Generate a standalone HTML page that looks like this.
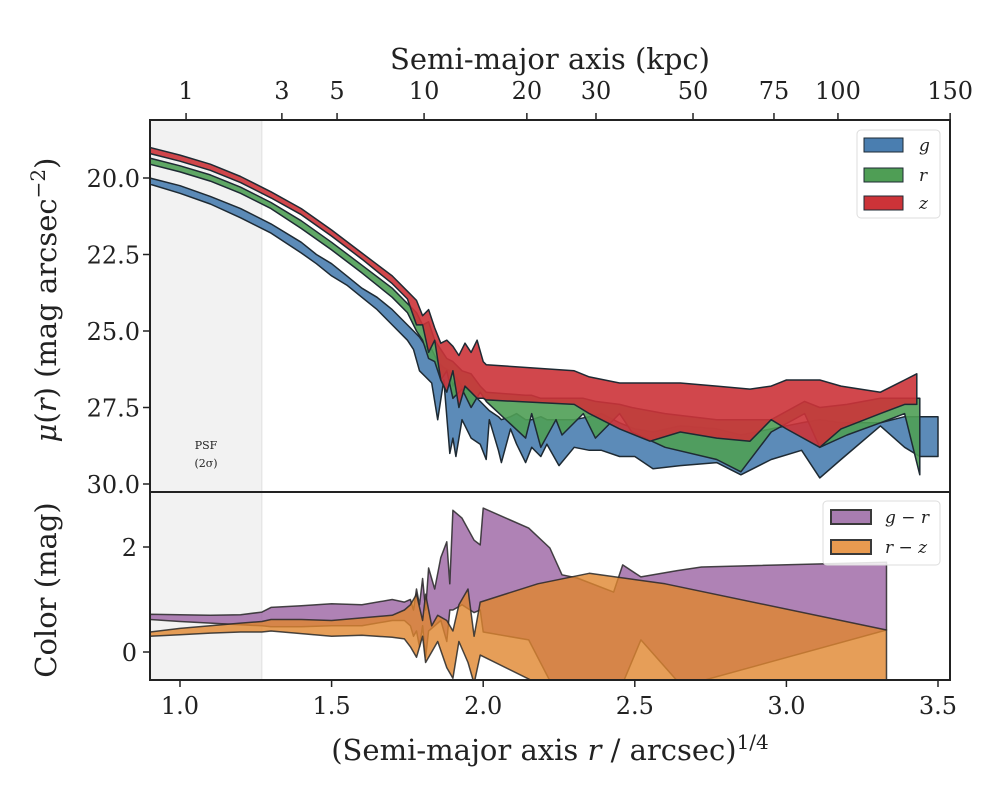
<!DOCTYPE html>
<html><head><meta charset="utf-8"><style>
body{margin:0;background:#fff}
svg text{font-family:"DejaVu Serif","Liberation Serif",serif;fill:#222}
</style></head><body>
<svg id="c" width="1000" height="800" viewBox="0 0 1000 800"></svg>
<script>
// ---------- data ----------
const gX=[0.9,1.0,1.1,1.2,1.3,1.4,1.45,1.5,1.55,1.6,1.65,1.7,1.75,1.77,1.79,1.81,1.83,1.85,1.87,1.89,1.9,1.91,1.93,1.96,1.99,2.01,2.02,2.05,2.06,2.09,2.11,2.14,2.16,2.19,2.21,2.25,2.30,2.35,2.39,2.45,2.50,2.56,2.65,2.77,2.85,2.95,3.05,3.11,3.18,3.31,3.39,3.44,3.50];
const gHi=[20.0,20.25,20.6,21.0,21.5,22.1,22.5,22.8,23.2,23.6,23.9,24.3,24.8,25.0,25.2,25.5,25.6,26.0,26.2,26.3,26.8,26.5,26.8,27.0,27.3,27.5,27.6,27.8,27.9,27.8,27.7,27.9,27.9,27.8,27.9,27.9,27.9,27.8,27.7,28.0,28.2,28.3,28.1,28.2,28.4,28.2,28.0,27.9,28.0,28.0,27.8,27.8,27.8];
const gLo=[20.2,20.5,20.85,21.3,21.8,22.45,22.8,23.2,23.5,23.9,24.3,24.8,25.3,25.6,26.3,26.5,26.7,27.9,26.6,29.0,28.5,29.1,27.9,28.5,28.7,29.2,27.9,28.9,29.3,28.2,28.7,29.3,28.8,29.1,28.7,29.4,28.8,28.9,28.9,29.1,29.1,29.5,29.4,29.3,29.7,29.2,28.9,29.8,29.2,28.1,28.8,29.1,29.1];
const rX=[0.9,1.0,1.1,1.2,1.3,1.4,1.5,1.6,1.7,1.75,1.78,1.80,1.82,1.84,1.86,1.88,1.9,1.93,1.96,1.99,2.01,2.14,2.16,2.19,2.24,2.26,2.33,2.37,2.45,2.49,2.6,2.77,2.85,2.95,3.06,3.11,3.2,3.31,3.39,3.44];
const rHi=[19.35,19.6,19.9,20.3,20.8,21.4,22.1,22.85,23.6,24.1,24.4,24.8,24.7,25.3,25.6,25.9,26.0,26.3,26.4,26.8,27.0,27.1,27.1,27.2,27.2,27.2,27.2,27.3,27.4,27.5,27.7,27.9,27.9,27.9,27.3,27.5,27.4,27.2,27.2,27.2];
const rLo=[19.55,19.8,20.1,20.5,21.0,21.65,22.35,23.1,23.9,24.4,25.0,25.3,25.9,26.0,26.6,26.3,27.2,26.9,27.5,27.0,27.3,28.5,27.7,28.8,27.9,28.4,27.7,28.5,27.7,28.3,28.8,29.2,29.6,28.3,27.7,28.8,28.4,28.0,27.7,29.7];
const zX=[0.9,1.0,1.1,1.2,1.3,1.4,1.5,1.6,1.7,1.75,1.78,1.80,1.82,1.84,1.86,1.88,1.9,1.92,1.94,1.96,1.98,2.0,2.01,2.3,2.35,2.45,2.55,2.65,2.77,2.88,2.95,3.0,3.11,3.18,3.31,3.39,3.43];
const zHi=[19.0,19.25,19.55,19.95,20.45,21.0,21.7,22.45,23.2,23.7,24.0,24.5,24.3,24.9,25.4,25.3,25.5,25.8,25.4,25.7,25.3,26.0,26.1,26.3,26.5,26.7,26.7,26.7,26.8,26.9,26.8,26.6,26.6,26.8,27.0,26.6,26.4];
const zLo=[19.2,19.45,19.75,20.15,20.65,21.2,21.9,22.65,23.45,23.95,24.8,24.8,25.7,25.3,26.6,27.0,26.3,27.5,26.8,27.0,27.2,27.2,27.25,27.4,27.7,28.2,28.6,28.3,28.5,28.6,27.9,28.2,28.8,28.2,27.7,27.4,27.4];
const grX=[0.9,1.0,1.1,1.2,1.27,1.3,1.4,1.5,1.6,1.7,1.74,1.76,1.77,1.78,1.79,1.80,1.81,1.82,1.84,1.86,1.88,1.89,1.9,1.93,1.97,1.99,2.0,2.15,2.22,2.26,2.31,2.43,2.46,2.52,2.64,2.72,3.33];
const grHi=[0.72,0.71,0.70,0.71,0.76,0.85,0.88,0.92,0.9,1.0,0.95,1.0,0.8,1.2,0.9,1.4,0.8,1.6,1.2,1.8,2.1,1.3,2.7,2.55,2.13,2.04,2.74,2.36,1.98,1.47,1.41,1.14,1.66,1.43,1.55,1.62,1.71];
const grLo=[0.62,0.58,0.55,0.52,0.5,0.48,0.48,0.5,0.5,0.6,0.6,0.5,0.3,0.4,0.1,0.5,-0.1,0.4,0.5,0.6,0.2,0.8,0.8,0.9,0.75,0.8,0.38,0.23,-0.55,-0.6,-0.6,-0.6,-0.6,0.23,-0.55,-0.55,0.42];
const rzX=[0.9,1.0,1.1,1.2,1.27,1.3,1.4,1.5,1.6,1.7,1.74,1.76,1.78,1.80,1.81,1.83,1.85,1.88,1.9,1.92,1.95,1.97,1.99,2.18,2.35,2.6,3.33];
const rzHi=[0.38,0.45,0.5,0.55,0.58,0.62,0.62,0.6,0.65,0.7,0.8,0.9,1.1,0.6,1.1,0.5,0.7,0.6,0.4,0.9,1.2,0.3,0.95,1.3,1.5,1.3,0.42];
const rzLo=[0.3,0.33,0.36,0.38,0.38,0.4,0.35,0.3,0.32,0.28,0.25,0.1,-0.1,0.3,-0.2,0.0,0.2,-0.3,-0.5,0.2,-0.2,-0.6,-0.06,-0.6,-0.6,-0.6,-0.6];
const xTicks=[1.0,1.5,2.0,2.5,3.0,3.5];
const muTicks=[20.0,22.5,25.0,27.5,30.0];
const colTicks=[0,2];
const kpcLabels=["1","3","5","10","20","30","50","75","100","150"];
const kpcPos=[1.020,1.336,1.518,1.805,2.144,2.372,2.692,2.959,3.170,3.54];

// ---------- axes ----------
const L=150,R=950,T1=120,B1=492,T2=492,B2=680;
const X=v=>180+(v-1)*303.2;
const Y1=v=>178+(v-20)*30.6;
const Y2=v=>652-v*52.5;
const NS="http://www.w3.org/2000/svg";
const svg=document.getElementById('c');
function el(tag,at,parent){const e=document.createElementNS(NS,tag);for(const k in at)e.setAttribute(k,at[k]);(parent||svg).appendChild(e);return e;}

const defs=el('defs',{});
const c1=el('clipPath',{id:'cp1'},defs);el('rect',{x:L,y:T1,width:R-L,height:B1-T1},c1);
const c2=el('clipPath',{id:'cp2'},defs);el('rect',{x:L,y:T2,width:R-L,height:B2-T2},c2);

const psf1=el('rect',{x:L,y:T1,width:X(1.27)-L,height:B1-T1,fill:'#f2f2f2'});


const psf2=el('rect',{x:L,y:T2,width:X(1.27)-L,height:B2-T2,fill:'#f2f2f2'});


el('line',{x1:X(1.27),x2:X(1.27),y1:T1,y2:B2,stroke:'#e0e0e0','stroke-width':1});
const pt=el('text',{x:206,y:449,'text-anchor':'middle','font-size':11});pt.textContent='PSF';


const pt2=el('text',{x:206,y:467,'text-anchor':'middle','font-size':11});pt2.textContent='(2σ)';



function band(xs,hi,lo,Yf,fill,op,stroke,clip,name){
  let d='';
  xs.forEach((x,i)=>{d+=(i?'L':'M')+X(x).toFixed(1)+','+Yf(hi[i]).toFixed(1);});
  for(let i=xs.length-1;i>=0;i--)d+='L'+X(xs[i]).toFixed(1)+','+Yf(lo[i]).toFixed(1);
  d+='Z';
  const p=el('path',{d:d,fill:fill,'fill-opacity':op,stroke:stroke,'stroke-width':1.5,'stroke-linejoin':'round','clip-path':'url(#'+clip+')'});
  
  
}
band(gX,gHi,gLo,Y1,'#4a7eb0',0.9,'#1e2a33','cp1','g-band');
band(rX,rHi,rLo,Y1,'#4f9e55',0.9,'#1e2a33','cp1','r-band');
band(zX,zHi,zLo,Y1,'#cc3338',0.9,'#1e2a33','cp1','z-band');
band(grX,grHi,grLo,Y2,'#9b63a2',0.8,'rgba(40,40,40,0.85)','cp2','g-r-band');
band(rzX,rzHi,rzLo,Y2,'#e0862e',0.8,'rgba(40,40,40,0.85)','cp2','r-z-band');

const f1=el('rect',{x:L,y:T1,width:R-L,height:B1-T1,fill:'none',stroke:'#222','stroke-width':2});


const f2=el('rect',{x:L,y:T2,width:R-L,height:B2-T2,fill:'none',stroke:'#222','stroke-width':2});



xTicks.forEach(v=>{
  el('line',{x1:X(v),x2:X(v),y1:B2,y2:B2+7,stroke:'#222','stroke-width':1.5});
  const t=el('text',{x:X(v),y:B2+34,'text-anchor':'middle','font-size':24});t.textContent=v.toFixed(1);
  
  
});
muTicks.forEach(v=>{
  el('line',{x1:L-7,x2:L,y1:Y1(v),y2:Y1(v),stroke:'#222','stroke-width':1.5});
  const t=el('text',{x:L-10,y:Y1(v)+9,'text-anchor':'end','font-size':24});t.textContent=v.toFixed(1);
  
  
});
colTicks.forEach(v=>{
  el('line',{x1:L-7,x2:L,y1:Y2(v),y2:Y2(v),stroke:'#222','stroke-width':1.5});
  const t=el('text',{x:L-13,y:Y2(v)+9,'text-anchor':'end','font-size':24});t.textContent=String(v);
  
  
});
kpcPos.forEach((v,i)=>{
  el('line',{x1:X(v),x2:X(v),y1:T1-7,y2:T1,stroke:'#222','stroke-width':1.5});
  const t=el('text',{x:X(v),y:T1-21,'text-anchor':'middle','font-size':24});t.textContent=kpcLabels[i];
  
  
});

function txt(s,at,name){const t=el('text',at);t.innerHTML=s;return t;}
txt('Semi-major axis (kpc)',{x:550,y:69,'text-anchor':'middle','font-size':29},'top-axis-title');
txt('(Semi-major axis <tspan font-style="italic">r</tspan> / arcsec)<tspan dy="-11" font-size="20">1/4</tspan>',{x:550,y:760,'text-anchor':'middle','font-size':29},'x-axis-title');
txt('<tspan font-style="italic">μ</tspan>(<tspan font-style="italic">r</tspan>) (mag arcsec<tspan dy="-11" font-size="20">−2</tspan><tspan dy="11">)</tspan>',{x:0,y:0,'text-anchor':'middle','font-size':29,transform:'translate(56,300) rotate(-90)'},'mu-axis-title');
txt('Color (mag)',{x:0,y:0,'text-anchor':'middle','font-size':29,transform:'translate(56,590) rotate(-90)'},'color-axis-title');

function legend(x,y,w,h,items,name){
  const g=el('g',{});
  el('rect',{x:x,y:y,width:w,height:h,rx:4,fill:'#fff','fill-opacity':0.85,stroke:'#ddd','stroke-width':1},g);
  items.forEach((it,i)=>{
    const r=el('rect',{x:it.px,y:it.py,width:it.pw,height:14,fill:it.c,stroke:it.s,'stroke-width':it.sw},g);
    
    const t=el('text',{x:it.tx,y:it.py+13,'font-size':17,'font-family':'DejaVu Sans, sans-serif','font-style':'italic'},g);
    t.textContent=it.l;
  });
}
legend(857,130,83,88,[
  {px:864,py:138,pw:39,c:'#4a7eb0',s:'#1e2a33',sw:1,tx:919,l:'g'},
  {px:864,py:168,pw:39,c:'#4f9e55',s:'#1e2a33',sw:1,tx:919,l:'r'},
  {px:864,py:196,pw:39,c:'#cc3338',s:'#1e2a33',sw:1,tx:919,l:'z'}],'legend-top');
legend(823,501,117,64,[
  {px:831,py:510,pw:40,c:'#a87db0',s:'#3a3a3a',sw:2,tx:885,l:'g − r'},
  {px:831,py:540,pw:40,c:'#e89a50',s:'#3a3a3a',sw:2,tx:885,l:'r − z'}],'legend-bottom');
</script>
</body></html>
